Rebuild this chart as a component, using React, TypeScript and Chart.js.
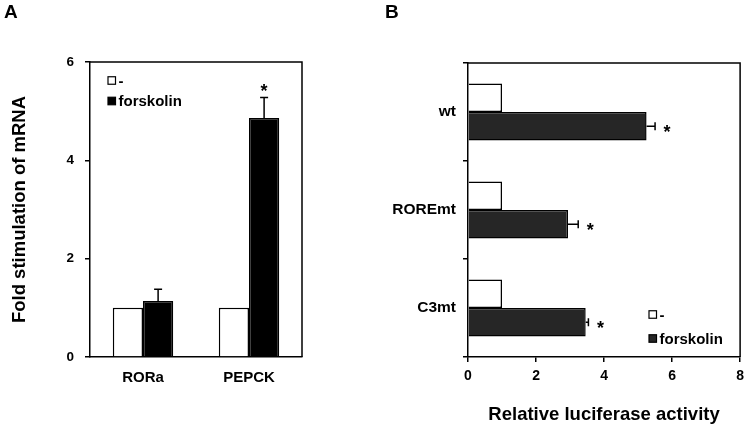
import React, { useEffect, useRef } from "react";
import { Chart, registerables } from "chart.js";

Chart.register(...registerables);

// ---- Panel A data ----
const genesA = ["RORa", "PEPCK"];
const controlA = [1, 1];
const forskolinA = [1.14, 4.86];
const errorA = [0.24, 0.42];
const sigA = [false, true];
const yTicksA = [0, 2, 4, 6];
const titleA = "Fold stimulation of mRNA";

// ---- Panel B data ----
const constructsB = ["wt", "ROREmt", "C3mt"];
const controlB = [1, 1, 1];
const forskolinB = [5.25, 2.94, 3.46];
const errorB = [0.25, 0.3, 0.08];
const sigB = [true, true, true];
const xTicksB = [0, 2, 4, 6, 8];
const titleB = "Relative luciferase activity";

const seriesLabels = ["-", "forskolin"];

const FONT = "'Liberation Sans', Arial, sans-serif";

type AnnotOpts = {
  errors: number[];
  sig: boolean[];
  horizontal: boolean;
  letter: string;
  letterX: number;
  legendX: number;
  legendY: number[];
  legendBox: number;
};

function makeAnnot(o: AnnotOpts) {
  return {
    id: "annot",
    afterDatasetsDraw(chart: any) {
      const ctx = chart.ctx;
      const meta = chart.getDatasetMeta(1);
      const vals = chart.data.datasets[1].data as number[];
      const vScale = o.horizontal ? chart.scales.x : chart.scales.y;
      ctx.save();
      ctx.strokeStyle = "#000";
      ctx.fillStyle = "#000";
      ctx.lineWidth = 1.5;
      meta.data.forEach((el: any, i: number) => {
        const p0 = vScale.getPixelForValue(vals[i]);
        const p1 = vScale.getPixelForValue(vals[i] + o.errors[i]);
        ctx.beginPath();
        if (o.horizontal) {
          ctx.moveTo(p0, el.y);
          ctx.lineTo(p1, el.y);
          ctx.moveTo(p1, el.y - 4);
          ctx.lineTo(p1, el.y + 4);
        } else {
          ctx.moveTo(el.x, p0);
          ctx.lineTo(el.x, p1);
          ctx.moveTo(el.x - 4, p1);
          ctx.lineTo(el.x + 4, p1);
        }
        ctx.stroke();
        if (o.sig[i]) {
          ctx.font = `bold 18px ${FONT}`;
          ctx.textAlign = "center";
          ctx.textBaseline = "alphabetic";
          if (o.horizontal) {
            ctx.fillText("*", p1 + 12, el.y + 2 + 10);
          } else {
            ctx.fillText("*", el.x, p1 - 10 + 10);
          }
        }
      });
      // frame top/right
      const { left, top, right, bottom } = chart.chartArea;
      ctx.beginPath();
      ctx.moveTo(left, top);
      ctx.lineTo(right, top);
      ctx.lineTo(right, bottom);
      ctx.stroke();
      ctx.restore();
    },
    afterDraw(chart: any) {
      const ctx = chart.ctx;
      ctx.save();
      // legend
      chart.data.datasets.forEach((ds: any, i: number) => {
        const cy = o.legendY[i];
        const b = o.legendBox;
        ctx.fillStyle = ds.backgroundColor;
        ctx.fillRect(o.legendX, cy - b / 2, b, b);
        ctx.strokeStyle = "#000";
        ctx.lineWidth = 1.2;
        ctx.strokeRect(o.legendX, cy - b / 2, b, b);
        ctx.fillStyle = "#000";
        ctx.font = `bold 15px ${FONT}`;
        ctx.textAlign = "left";
        ctx.textBaseline = "middle";
        ctx.fillText(ds.label, o.legendX + b + 3, cy + 1);
      });
      // panel letter
      ctx.fillStyle = "#000";
      ctx.font = `bold 19px ${FONT}`;
      ctx.textAlign = "left";
      ctx.textBaseline = "middle";
      ctx.fillText(o.letter, o.letterX, 13);
      ctx.restore();
    },
  };
}

function PanelA() {
  const ref = useRef<HTMLCanvasElement>(null);
  useEffect(() => {
    const chart = new Chart(ref.current!, {
      type: "bar",
      data: {
        labels: genesA,
        datasets: [
          {
            label: seriesLabels[0],
            data: controlA,
            backgroundColor: "#ffffff",
            borderColor: "#000000",
            borderWidth: 1.5,
            categoryPercentage: 0.57,
            barPercentage: 1,
          },
          {
            label: seriesLabels[1],
            data: forskolinA,
            backgroundColor: "#000000",
            borderColor: "#000000",
            borderWidth: 1.5,
            categoryPercentage: 0.57,
            barPercentage: 1,
          },
        ],
      },
      options: {
        animation: false,
        responsive: false,
        devicePixelRatio: 1,
        layout: { padding: { top: 62, right: 73, left: 0, bottom: 0 } },
        plugins: { legend: { display: false }, tooltip: { enabled: false } },
        scales: {
          x: {
            grid: { display: true, drawOnChartArea: false, drawTicks: false, color: "#000", lineWidth: 1.5 },
            border: { color: "#000", width: 1.5 },
            ticks: { color: "#000", font: { family: FONT, size: 15, weight: "bold" }, padding: 12 },
            afterFit: (s: any) => {
              s.height = 74;
            },
          },
          y: {
            min: 0,
            max: 6,
            afterBuildTicks: (s: any) => {
              s.ticks = yTicksA.map((v) => ({ value: v }));
            },
            grid: { drawOnChartArea: false, tickLength: 5, color: "#000", lineWidth: 1.5 },
            border: { color: "#000", width: 1.5 },
            ticks: { color: "#000", font: { family: FONT, size: 13.5, weight: "bold" }, padding: 11 },
            title: {
              display: true,
              text: titleA,
              color: "#000",
              font: { family: FONT, size: 18.5, weight: "bold" },
              padding: { top: 9, bottom: 0 },
            },
            afterFit: (s: any) => {
              s.width = 90;
            },
          },
        },
      } as any,
      plugins: [
        makeAnnot({
          errors: errorA,
          sig: sigA,
          horizontal: false,
          letter: "A",
          letterX: 4,
          legendX: 108,
          legendY: [80.5, 101],
          legendBox: 7.5,
        }),
      ],
    });
    return () => chart.destroy();
  }, []);
  return (
    <canvas
      ref={ref}
      width={375}
      height={431}
      style={{ position: "absolute", left: 0, top: 0, width: 375, height: 431 }}
    />
  );
}

function PanelB() {
  const ref = useRef<HTMLCanvasElement>(null);
  useEffect(() => {
    const chart = new Chart(ref.current!, {
      type: "bar",
      data: {
        labels: constructsB,
        datasets: [
          {
            label: seriesLabels[0],
            data: controlB,
            backgroundColor: "#ffffff",
            borderColor: "#000000",
            borderWidth: 1.5,
            categoryPercentage: 0.58,
            barPercentage: 1,
          },
          {
            label: seriesLabels[1],
            data: forskolinB,
            backgroundColor: "#262626",
            borderColor: "#000000",
            borderWidth: 1.5,
            categoryPercentage: 0.58,
            barPercentage: 1,
          },
        ],
      },
      options: {
        indexAxis: "y",
        animation: false,
        responsive: false,
        devicePixelRatio: 1,
        layout: { padding: { top: 63, right: 6, left: 0, bottom: 0 } },
        plugins: { legend: { display: false }, tooltip: { enabled: false } },
        scales: {
          x: {
            min: 0,
            max: 8,
            afterBuildTicks: (s: any) => {
              s.ticks = xTicksB.map((v) => ({ value: v }));
            },
            grid: { drawOnChartArea: false, tickLength: 5, color: "#000", lineWidth: 1.5 },
            border: { color: "#000", width: 1.5 },
            ticks: { color: "#000", font: { family: FONT, size: 14, weight: "bold" }, padding: 6 },
            title: {
              display: true,
              text: titleB,
              color: "#000",
              font: { family: FONT, size: 18.5, weight: "bold" },
              padding: { top: 0, bottom: 5 },
            },
            afterFit: (s: any) => {
              s.height = 74;
            },
          },
          y: {
            grid: { drawOnChartArea: false, tickLength: 5, color: "#000", lineWidth: 1.5, offset: true },
            border: { color: "#000", width: 1.5 },
            ticks: { color: "#000", font: { family: FONT, size: 15.5, weight: "bold" }, padding: 7 },
            afterFit: (s: any) => {
              s.width = 93;
            },
          },
        },
      } as any,
      plugins: [
        makeAnnot({
          errors: errorB,
          sig: sigB,
          horizontal: true,
          letter: "B",
          letterX: 10,
          legendX: 274,
          legendY: [314.5, 338.5],
          legendBox: 7.5,
        }),
      ],
    });
    return () => chart.destroy();
  }, []);
  return (
    <canvas
      ref={ref}
      width={375}
      height={431}
      style={{ position: "absolute", left: 375, top: 0, width: 375, height: 431 }}
    />
  );
}

export default function App() {
  return (
    <div style={{ position: "absolute", left: 0, top: 0, width: 750, height: 431, background: "#fff" }}>
      <PanelA />
      <PanelB />
    </div>
  );
}
